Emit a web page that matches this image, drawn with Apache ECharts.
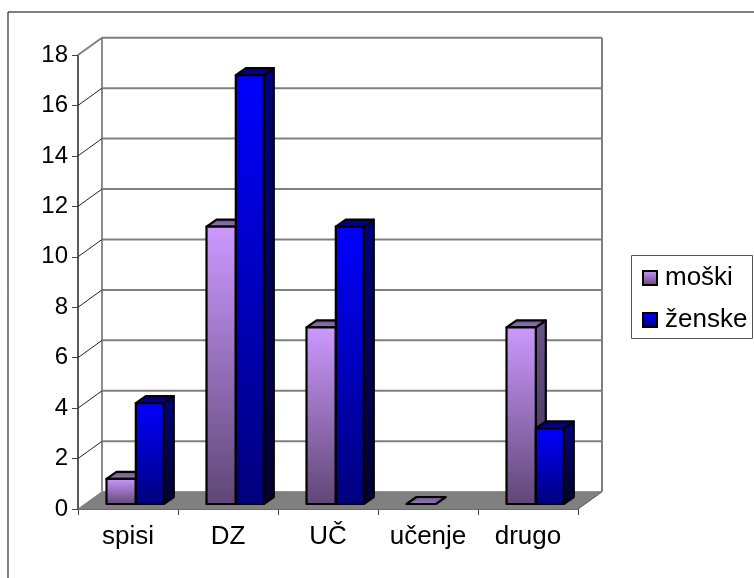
<!DOCTYPE html>
<html>
<head>
<meta charset="utf-8">
<style>html,body{margin:0;padding:0;background:#fff}#c{width:754px;height:578px}</style>
<script src="https://cdn.jsdelivr.net/npm/echarts@6/dist/echarts.min.js"></script>
</head>
<body>
<div id="c"></div>
<script>
const categories = ['spisi', 'DZ', 'UČ', 'učenje', 'drugo'];
const moski = [1, 11, 7, 0, 7];
const zenske = [4, 17, 11, null, 3];
const yTicks = [0, 2, 4, 6, 8, 10, 12, 14, 16, 18];
const seriesNames = ['moški', 'ženske'];

const WALL_DX = 24, WALL_DY = -17.3;
const BAR_DX = 10, BAR_DY = -7, BAR_LIFT = -5;
const GRID_GREY = '#808080';
const v = (c1, c2) => new echarts.graphic.LinearGradient(0, 0, 0, 1, [
  {offset: 0, color: c1}, {offset: 1, color: c2}]);
const looks = [
  {front: ['#CC99FF', '#5F4675'], side: ['#6A5488', '#3E3052'], top: ['#6A5090', '#9A80B0'], shift: -21.5, w: 29.3},
  {front: ['#0000FF', '#00007C'], side: ['#000080', '#000030'], top: ['#000080', '#000090'], shift: 7.8, w: 28}
];

function barItem(look) {
  return function (params, api) {
    const val = api.value(1);
    if (val == null || isNaN(val)) return;
    const base = api.coord([api.value(0), 0]);
    const top = api.coord([api.value(0), val]);
    const x0 = base[0] + look.shift, x1 = x0 + look.w;
    const y0 = base[1] + BAR_LIFT, y1 = top[1] + BAR_LIFT;
    const stroke = {stroke: '#000', lineWidth: 2.2, lineJoin: 'round'};
    const poly = (points, fill) => ({type: 'polygon', shape: {points}, style: Object.assign({fill}, stroke)});
    const children = [];
    if (val > 0) {
      children.push(poly([[x1, y0], [x1 + BAR_DX, y0 + BAR_DY], [x1 + BAR_DX, y1 + BAR_DY], [x1, y1]], v(look.side[0], look.side[1])));
    }
    children.push(poly([[x0, y1], [x1, y1], [x1 + BAR_DX, y1 + BAR_DY], [x0 + BAR_DX, y1 + BAR_DY]], v(look.top[0], look.top[1])));
    if (val > 0) {
      children.push(poly([[x0, y0], [x1, y0], [x1, y1], [x0, y1]], v(look.front[0], look.front[1])));
    }
    return {type: 'group', children};
  };
}

function wallItem(params, api) {
  const val = api.value(1);
  const p = api.coord([0, val]);
  const cs = params.coordSys;
  const xL = cs.x, xR = cs.x + cs.width, y = p[1];
  const children = [];
  const line = (x1, y1, x2, y2, color, w, z2) => ({type: 'line', z2: z2 || 0,
    shape: {x1, y1, x2, y2}, style: {stroke: color, lineWidth: w}});
  if (val === 0) {
    children.push({type: 'polygon', z2: -1, shape: {points: [[xL, y], [xR, y], [xR + WALL_DX, y + WALL_DY], [xL + WALL_DX, y + WALL_DY]]},
      style: {fill: GRID_GREY, stroke: GRID_GREY, lineWidth: 1}});
    const topY = api.coord([0, yTicks[yTicks.length - 1]])[1] + WALL_DY;
    children.push(line(xL + WALL_DX, y + WALL_DY, xL + WALL_DX, topY, '#8c8c8c', 2));
    children.push(line(xR + WALL_DX, y + WALL_DY, xR + WALL_DX, topY, GRID_GREY, 2));
    children.push(line(xR, y, xR + WALL_DX, y + WALL_DY, '#606060', 1));
  } else {
    children.push(line(xL + WALL_DX, y + WALL_DY, xR + WALL_DX, y + WALL_DY, GRID_GREY, 2));
    const isTop = val === yTicks[yTicks.length - 1];
    children.push(line(xL, y, xL + WALL_DX, y + WALL_DY, isTop ? GRID_GREY : '#222', isTop ? 2 : 1));
  }
  return {type: 'group', children};
}

const fontFamily = '"Liberation Sans", Arial, sans-serif';
const chart = echarts.init(document.getElementById('c'), null, {renderer: 'canvas'});
chart.setOption({
  animation: false,
  backgroundColor: '#fff',
  grid: {left: 78, top: 55, width: 500, height: 454, containLabel: false},
  graphic: [
    {type: 'rect', silent: true, z: -10, shape: {x: 8, y: 12, width: 780, height: 600},
      style: {fill: '#fff', stroke: '#000', lineWidth: 1}},
    {type: 'rect', silent: true, z: 0, shape: {x: 631.5, y: 255.5, width: 121, height: 83},
      style: {fill: '#fff', stroke: '#555', lineWidth: 1}}
  ],
  legend: {
    orient: 'vertical', left: 642, top: 265, padding: 0, itemGap: 16, itemWidth: 14, itemHeight: 14,
    selectedMode: false, z: 5,
    textStyle: {fontFamily, fontSize: 26, color: '#000', padding: [0, 0, 0, 3]},
    data: [
      {name: seriesNames[0], icon: 'rect', itemStyle: {color: v('#CC99FF', '#5F4675'), borderColor: '#000', borderWidth: 2}},
      {name: seriesNames[1], icon: 'rect', itemStyle: {color: v('#0000FF', '#00007C'), borderColor: '#000', borderWidth: 2}}
    ]
  },
  xAxis: {
    type: 'category', data: categories, boundaryGap: true,
    axisLine: {lineStyle: {color: '#222', width: 1.5}},
    axisTick: {show: true, alignWithLabel: false, length: 6, lineStyle: {color: '#444', width: 1}},
    axisLabel: {margin: 15, interval: 0, fontFamily, fontSize: 26, color: '#000'}
  },
  yAxis: {
    type: 'value', min: 0, max: 18, interval: 2,
    splitLine: {show: false},
    axisLine: {show: true, lineStyle: {color: '#222', width: 1.5}},
    axisTick: {show: true, length: 6, lineStyle: {color: '#444', width: 1}},
    axisLabel: {margin: 10, fontFamily, fontSize: 24, color: '#000', padding: [0, 0, 4, 0]}
  },
  series: [
    {type: 'custom', name: 'wall', silent: true, clip: false, z: 1, renderItem: wallItem,
      encode: {x: 0, y: 1}, data: yTicks.map(t => [0, t])},
    {type: 'custom', name: seriesNames[0], clip: false, z: 2, renderItem: barItem(looks[0]),
      encode: {x: 0, y: 1}, data: moski.map((m, i) => [i, m])},
    {type: 'custom', name: seriesNames[1], clip: false, z: 3, renderItem: barItem(looks[1]),
      encode: {x: 0, y: 1}, data: zenske.map((m, i) => [i, m])}
  ]
});
</script>
</body>
</html>
